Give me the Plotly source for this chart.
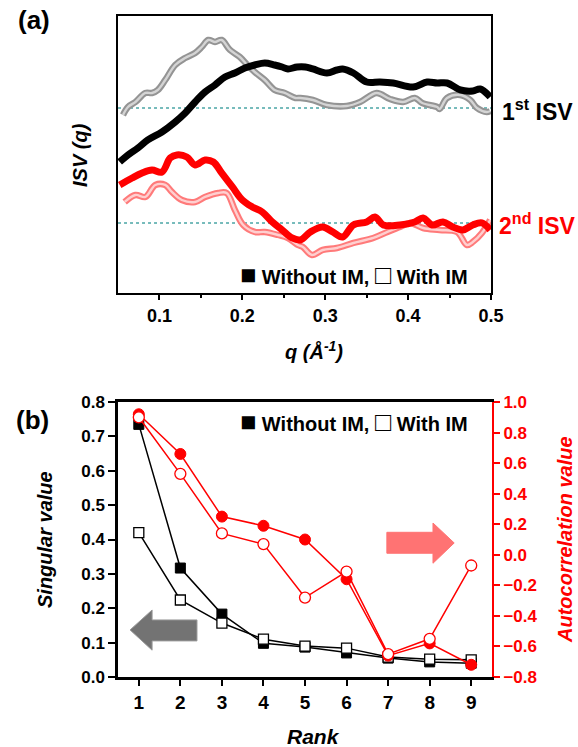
import plotly.graph_objects as go

# ---------------- Panel (a): ISV(q) curves (arbitrary units) ----------------
q_1st_without = [0.052,0.062,0.074,0.086,0.103,0.119,0.131,0.143,0.155,0.167,0.179,0.191,0.203,0.215,0.227,0.239,0.248,0.255,0.266,0.276,0.285,0.302,0.314,0.321,0.334,0.350,0.366,0.382,0.406,0.423,0.435,0.447,0.463,0.478,0.487,0.499]
isv_1st_without = [131,138,145,153,161,171,180,191,201,208,216,220,225,228,230,228,226,224,226,226,224,220,223,224,220,211,211,210,206,211,210,210,203,202,204,196]

q_1st_with = [0.056,0.062,0.071,0.083,0.091,0.098,0.107,0.119,0.131,0.143,0.151,0.159,0.167,0.175,0.185,0.197,0.206,0.215,0.227,0.239,0.251,0.264,0.270,0.285,0.302,0.326,0.342,0.362,0.378,0.394,0.408,0.417,0.435,0.438,0.447,0.463,0.475,0.483,0.495,0.499]
isv_1st_with = [178,186,191,200,200,203,213,228,235,240,246,253,251,253,243,236,228,221,213,203,200,195,195,193,188,187,191,200,194,191,195,190,186,184,195,198,193,185,181,182]

q_2nd_without = [0.052,0.067,0.079,0.091,0.103,0.113,0.121,0.133,0.143,0.155,0.165,0.175,0.188,0.200,0.212,0.224,0.236,0.248,0.260,0.270,0.282,0.297,0.309,0.321,0.334,0.350,0.360,0.370,0.390,0.408,0.418,0.429,0.442,0.454,0.466,0.478,0.489,0.499]
isv_2nd_without = [108,115,120,123,121,135,138,136,128,133,131,120,106,93,86,81,71,63,55,53,61,66,61,56,68,71,76,68,68,71,75,68,71,66,63,68,70,63]

q_2nd_with = [0.058,0.071,0.083,0.095,0.107,0.115,0.127,0.143,0.155,0.171,0.181,0.191,0.201,0.215,0.227,0.243,0.255,0.267,0.273,0.284,0.297,0.314,0.334,0.358,0.375,0.390,0.402,0.418,0.438,0.459,0.471,0.478,0.489,0.499]
isv_2nd_with = [91,98,96,108,108,101,93,91,96,100,100,83,68,61,61,58,55,48,46,38,43,45,50,55,61,66,70,65,63,61,48,51,60,73]

baseline_1st = 185
baseline_2nd = 70
q_ticks = [0.1, 0.2, 0.3, 0.4, 0.5]

# ---------------- Panel (b): singular values and autocorrelation ----------------
rank = [1, 2, 3, 4, 5, 6, 7, 8, 9]
sv_without = [0.735, 0.317, 0.183, 0.098, 0.087, 0.070, 0.055, 0.044, 0.040]
sv_with = [0.420, 0.224, 0.157, 0.110, 0.090, 0.084, 0.058, 0.052, 0.050]
ac_without = [0.92, 0.66, 0.25, 0.19, 0.10, -0.16, -0.66, -0.58, -0.72]
ac_with = [0.90, 0.53, 0.14, 0.07, -0.28, -0.11, -0.65, -0.55, -0.07]

FONT = "Liberation Sans"
RED = "#ff0000"

fig = go.Figure()

# panel (a) traces
def tube(x, y, color, inner, name):
    fig.add_trace(go.Scatter(x=x, y=y, mode="lines", line=dict(color=color, width=6.5, shape="spline"),
                             xaxis="x", yaxis="y", showlegend=False, name=name))
    fig.add_trace(go.Scatter(x=x, y=y, mode="lines", line=dict(color=inner, width=2.4, shape="spline"),
                             xaxis="x", yaxis="y", showlegend=False, hoverinfo="skip"))

tube(q_1st_with, isv_1st_with, "#949494", "#d4d4d4", "1st ISV with IM")
fig.add_trace(go.Scatter(x=q_1st_without, y=isv_1st_without, mode="lines",
                         line=dict(color="black", width=7, shape="spline"),
                         xaxis="x", yaxis="y", showlegend=False, name="1st ISV without IM"))
tube(q_2nd_with, isv_2nd_with, "#ff7a7a", "#ffcfcf", "2nd ISV with IM")
fig.add_trace(go.Scatter(x=q_2nd_without, y=isv_2nd_without, mode="lines",
                         line=dict(color=RED, width=7, shape="spline"),
                         xaxis="x", yaxis="y", showlegend=False, name="2nd ISV without IM"))

# panel (b) traces
fig.add_trace(go.Scatter(x=rank, y=sv_without, mode="lines+markers", xaxis="x2", yaxis="y2",
                         line=dict(color="black", width=1.5),
                         marker=dict(symbol="square", size=10, color="black", line=dict(color="black", width=1)),
                         showlegend=False, name="SV without IM"))
fig.add_trace(go.Scatter(x=rank, y=sv_with, mode="lines+markers", xaxis="x2", yaxis="y2",
                         line=dict(color="black", width=1.5),
                         marker=dict(symbol="square", size=10, color="white", line=dict(color="black", width=1.3)),
                         showlegend=False, name="SV with IM"))
fig.add_trace(go.Scatter(x=rank, y=ac_without, mode="lines+markers", xaxis="x2", yaxis="y3",
                         line=dict(color=RED, width=1.5),
                         marker=dict(symbol="circle", size=11, color=RED, line=dict(color=RED, width=1)),
                         showlegend=False, name="AC without IM"))
fig.add_trace(go.Scatter(x=rank, y=ac_with, mode="lines+markers", xaxis="x2", yaxis="y3",
                         line=dict(color=RED, width=1.5),
                         marker=dict(symbol="circle", size=11, color="white", line=dict(color=RED, width=1.3)),
                         showlegend=False, name="AC with IM"))

tickfont = dict(family=FONT, size=18, color="black", weight="bold")

fig.update_layout(
    template="none",
    width=578, height=747,
    margin=dict(l=0, r=0, t=0, b=0, pad=0, autoexpand=False),
    paper_bgcolor="white", plot_bgcolor="white",
    xaxis=dict(domain=[0.2042, 0.8495], anchor="y", range=[0.05, 0.5], automargin=False,
               tickvals=q_ticks, ticktext=[f"{v:.1f}" for v in q_ticks],
               ticks="outside", ticklen=5, tickwidth=1.5, tickcolor="black",
               minor=dict(tickvals=[0.15, 0.25, 0.35, 0.45], ticks="outside", ticklen=3, tickcolor="black"),
               showline=True, linecolor="black", linewidth=2, mirror=True,
               showgrid=False, zeroline=False, tickfont=tickfont),
    yaxis=dict(domain=[0.6078, 0.9786], anchor="x", range=[0, 277], automargin=False,
               showticklabels=False, ticks="", showline=True, linecolor="black", linewidth=2,
               mirror=True, showgrid=False, zeroline=False),
    xaxis2=dict(domain=[0.2042, 0.8512], anchor="y2", range=[0.5, 9.5], automargin=False,
                tickvals=rank, ticks="outside", ticklen=6, tickwidth=2, tickcolor="black",
                showline=True, linecolor="black", linewidth=2.5, mirror=True,
                showgrid=False, zeroline=False, tickfont=dict(family=FONT, size=19, color="black", weight="bold")),
    yaxis2=dict(domain=[0.0937, 0.4618], anchor="x2", range=[0, 0.8], dtick=0.1, tickformat=".1f",
                automargin=False, ticks="outside", ticklen=7, tickwidth=2, tickcolor="black",
                showline=True, linecolor="black", linewidth=2.5,
                showgrid=False, zeroline=False, tickfont=dict(family=FONT, size=17, color="black", weight="bold")),
    yaxis3=dict(anchor="x2", overlaying="y2", side="right", range=[-0.8, 1.0], dtick=0.2, tickformat=".1f",
                automargin=False, ticks="outside", ticklen=6, tickwidth=2, tickcolor=RED,
                showline=True, linecolor=RED, linewidth=2,
                showgrid=False, zeroline=False, tickfont=dict(family=FONT, size=17, color=RED, weight="bold")),
)

# baselines (dotted teal)
for b in (baseline_1st, baseline_2nd):
    fig.add_shape(type="line", xref="x", yref="y", x0=0.05, x1=0.5, y0=b, y1=b,
                  line=dict(color="#4aa5a5", width=1.5, dash="dot"), layer="below")

# arrows in panel (b)
fig.add_shape(type="path", xref="x2", yref="y2",
              path="M 0.79 0.137 L 1.32 0.195 L 1.32 0.166 L 2.40 0.166 L 2.40 0.105 L 1.32 0.105 L 1.32 0.078 Z",
              fillcolor="#737373", line=dict(color="#9a9a9a", width=1))
fig.add_shape(type="path", xref="x2", yref="y2",
              path="M 8.59 0.39 L 8.08 0.448 L 8.08 0.421 L 6.97 0.421 L 6.97 0.360 L 8.08 0.360 L 8.08 0.331 Z",
              fillcolor="#ff7373", line=dict(color="#ff7373", width=1))

def ann(text, x, y, size, color="black", italic=False, angle=0, xanchor="center", yanchor="middle"):
    fig.add_annotation(text=text, x=x / 578, y=1 - y / 747, xref="paper", yref="paper",
                       showarrow=False, textangle=angle, xanchor=xanchor, yanchor=yanchor,
                       font=dict(family=FONT, size=size, color=color, weight="bold",
                                 style="italic" if italic else "normal"))

legend_txt = ("<span style='font-size:27px'>■</span> Without IM, "
              "<span style='font-size:27px'>□</span> With IM")

ann("(a)", 34, 20, 26)
ann("(b)", 32, 420, 26)
ann("<i>ISV (q)</i>", 80, 155, 20, angle=-90)
ann("<i>q</i> <i>(Å<sup>-1</sup>)</i>", 314, 350, 20, italic=True)
ann("1<sup>st</sup> ISV", 500, 110, 23, xanchor="left")
ann("2<sup>nd</sup> ISV", 497, 224, 23, color=RED, xanchor="left")
ann(legend_txt, 470, 275, 20, xanchor="right")
ann(legend_txt, 470, 422, 20, xanchor="right")
ann("<i>Singular value</i>", 45, 540, 20, angle=-90)
ann("<i>Autocorrelation value</i>", 565, 540, 20, color=RED, angle=-90)
ann("<i>Rank</i>", 313, 736, 21)

fig.write_html("out.html", config={"displayModeBar": False},
               post_script="document.body.style.margin='0px';document.body.style.padding='0px';"
                           "document.body.style.overflow='hidden';")
